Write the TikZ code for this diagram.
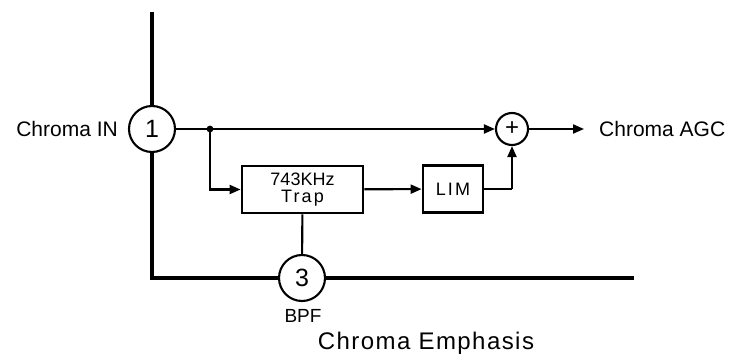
\documentclass[tikz,border=0pt]{standalone}
\usepackage{fontspec}
\setmainfont{Liberation Sans}
\usetikzlibrary{arrows.meta}
\newcommand{\fsz}[1]{\fontsize{#1}{#1}\selectfont}
\begin{document}
\begin{tikzpicture}[x=1pt,y=-1pt,
  edge/.style={line width=4pt},
  wire/.style={line width=2.1pt},
  arr/.style={wire,-{Triangle[length=11pt,width=9pt]}},
  pin/.style={circle,draw,line width=2.1pt,fill=white,minimum size=46pt,inner sep=0pt,font=\fsz{25}},
  sum/.style={circle,draw,line width=2.1pt,fill=white,minimum size=32pt,inner sep=0pt,font=\fsz{24}},
  blk/.style={draw,line width=2.8pt,inner sep=0pt},
  lbl/.style={font=\fsz{21},inner sep=0pt}]
\useasboundingbox (0,0) rectangle (730,358);
\coordinate (top) at (152,12);
\coordinate (corner) at (152,278);
\coordinate (bend) at (634,278);
\draw[edge] (top) -- (corner) -- (bend);
\node[pin] (p1) at (152,129) {1};
\node[pin] (p3) at (302,278) {3};
\node[lbl,anchor=east] (cin) at (118,129) {Chroma IN};
\node[sum] (plus) at (512,129) {+};
\node[blk,minimum width=121pt,minimum height=47pt,align=center,font=\fsz{18}] (trap) at (302.5,189.5) {743KHz\\[-1pt]{\addfontfeatures{LetterSpace=12}Trap}};
\node[blk,minimum width=60pt,minimum height=47pt,font=\fsz{18}\addfontfeatures{LetterSpace=12}] (lim) at (453,189) {LIM};
\coordinate (dot) at (210,129);
\coordinate (out) at (584,129);
\coordinate (limturn) at (512,189);
\fill (dot) circle (3.4pt);
\draw[wire] (p1) -- (dot);
\draw[arr] (dot) -- (plus);
\draw[arr] (dot) |- (trap);
\draw[arr] (trap) -- (lim);
\draw[wire] (lim) -- (limturn);
\draw[arr] (limturn) -- (plus);
\draw[arr] (plus) -- (out);
\node[lbl,anchor=west] (agc) at (599,129) {Chroma AGC};
\draw[wire] (trap) -- (p3);
\node[font=\fsz{19},inner sep=0pt] (bpf) at (303,316) {BPF};
\node[font=\fsz{24}\addfontfeatures{LetterSpace=6},inner sep=0pt] (title) at (426,343) {Chroma Emphasis};
\end{tikzpicture}
\end{document}
